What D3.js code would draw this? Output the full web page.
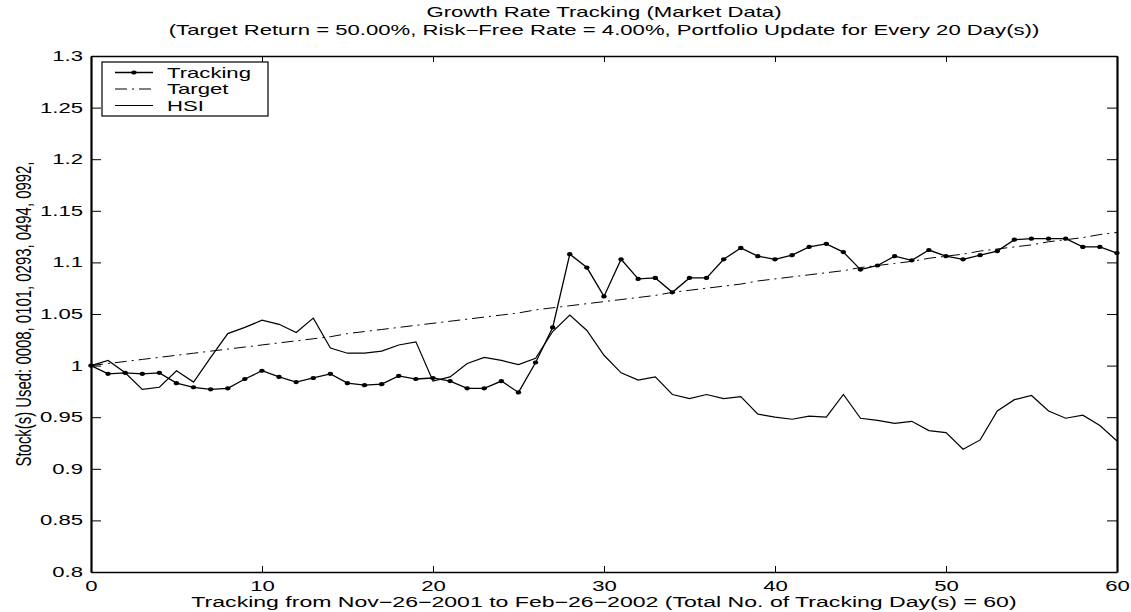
<!DOCTYPE html>
<html>
<head>
<meta charset="utf-8">
<script src="https://cdn.jsdelivr.net/npm/d3@7"></script>
<style>
  body { margin: 0; background: #fff; }
  text { font-family: "Liberation Sans", Arial, Helvetica, sans-serif; fill: #000; }
</style>
</head>
<body>
<script>
// Chart values
const days = d3.range(0, 61);

const tracking = [1.000, 0.992, 0.993, 0.992, 0.993, 0.983, 0.979, 0.977, 0.978, 0.987,
                  0.995, 0.989, 0.984, 0.988, 0.992, 0.983, 0.981, 0.982, 0.990, 0.987,
                  0.988, 0.985, 0.978, 0.978, 0.985, 0.974, 1.003, 1.037, 1.108, 1.095,
                  1.067, 1.103, 1.084, 1.085, 1.071, 1.085, 1.085, 1.103, 1.114, 1.106,
                  1.103, 1.107, 1.115, 1.118, 1.110, 1.093, 1.097, 1.106, 1.102, 1.112,
                  1.106, 1.103, 1.107, 1.111, 1.122, 1.123, 1.123, 1.123, 1.115, 1.115,
                  1.109];

const target = [1.000, 1.002, 1.004, 1.006, 1.008, 1.010, 1.012, 1.014, 1.016, 1.018,
                1.020, 1.022, 1.024, 1.026, 1.028, 1.031, 1.033, 1.035, 1.037, 1.039,
                1.041, 1.043, 1.045, 1.047, 1.049, 1.051, 1.054, 1.056, 1.058, 1.060,
                1.062, 1.064, 1.066, 1.068, 1.071, 1.073, 1.075, 1.077, 1.079, 1.082,
                1.084, 1.086, 1.088, 1.090, 1.092, 1.095, 1.097, 1.099, 1.101, 1.104,
                1.106, 1.108, 1.111, 1.113, 1.115, 1.117, 1.120, 1.122, 1.124, 1.127,
                1.129];

const hsi = [1.000, 1.005, 0.993, 0.977, 0.979, 0.995, 0.984, 1.008, 1.031, 1.037,
             1.044, 1.040, 1.032, 1.046, 1.017, 1.012, 1.012, 1.014, 1.020, 1.023,
             0.985, 0.989, 1.002, 1.008, 1.005, 1.001, 1.007, 1.033, 1.049, 1.034,
             1.010, 0.993, 0.986, 0.989, 0.972, 0.968, 0.972, 0.968, 0.970, 0.953,
             0.950, 0.948, 0.951, 0.950, 0.972, 0.949, 0.947, 0.944, 0.946, 0.937,
             0.935, 0.919, 0.928, 0.956, 0.967, 0.971, 0.956, 0.949, 0.952, 0.942,
             0.927];

const xTicks = [0, 10, 20, 30, 40, 50, 60];
const yTicks = [0.8, 0.85, 0.9, 0.95, 1, 1.05, 1.1, 1.15, 1.2, 1.25, 1.3];
const yTickLabels = ["0.8", "0.85", "0.9", "0.95", "1", "1.05", "1.1", "1.15", "1.2", "1.25", "1.3"];

const seriesNames = ["Tracking", "Target", "HSI"];

// Dimensions
const W = 1131, H = 612;
const margin = {top: 56, right: 14, bottom: 40, left: 91};
const width = W - margin.left - margin.right,
      height = H - margin.top - margin.bottom;

// the original figure was stretched sideways, so text is wide
const SX = 1.58;
const FS = "14px";

function stretch(sel) {
    sel.each(function() {
        const t = d3.select(this);
        const x0 = +t.attr("x") || 0;
        t.attr("x", x0 / SX).attr("transform", `scale(${SX},1)`);
    });
}

const root = d3.select("body").append("svg")
    .attr("width", W)
    .attr("height", H);

const svg = root.append("g")
    .attr("transform", `translate(${margin.left},${margin.top})`);

// scales
const x = d3.scaleLinear().domain([0, 60]).range([0, width]);
const y = d3.scaleLinear().domain([0.8, 1.3]).range([height, 0]);

// axes (ticks pointing inward, box all round)
function styleAxis(g, sw) {
    g.select(".domain").attr("stroke", "#000").attr("stroke-width", sw);
    g.selectAll(".tick line").attr("stroke", "#000").attr("stroke-width", 1);
    g.selectAll(".tick text").style("font-size", FS).attr("fill", "#000").call(stretch);
}

svg.append("g")
   .attr("transform", `translate(0,${height})`)
   .call(d3.axisBottom(x).tickValues(xTicks).tickSizeInner(-6).tickSizeOuter(0).tickPadding(9))
   .call(styleAxis, 1.6);

svg.append("g")
   .call(d3.axisTop(x).tickValues(xTicks).tickSizeInner(-6).tickSizeOuter(0).tickFormat(""))
   .call(styleAxis, 1.6);

svg.append("g")
   .call(d3.axisLeft(y).tickValues(yTicks).tickSizeInner(-10).tickSizeOuter(0).tickPadding(8)
         .tickFormat((d, i) => yTickLabels[i]))
   .call(styleAxis, 2.2);

svg.append("g")
   .attr("transform", `translate(${width},0)`)
   .call(d3.axisRight(y).tickValues(yTicks).tickSizeInner(-10).tickSizeOuter(0).tickFormat(""))
   .call(styleAxis, 2.2);

// lines
const line = d3.line()
    .x((d, i) => x(days[i]))
    .y(d => y(d));

svg.append("path")
   .datum(target)
   .attr("fill", "none")
   .attr("stroke", "#000")
   .attr("stroke-width", 1)
   .attr("stroke-dasharray", "12,5,2,5")
   .attr("d", line);

svg.append("path")
   .datum(hsi)
   .attr("fill", "none")
   .attr("stroke", "#000")
   .attr("stroke-width", 1.2)
   .attr("d", line);

svg.append("path")
   .datum(tracking)
   .attr("fill", "none")
   .attr("stroke", "#000")
   .attr("stroke-width", 1.3)
   .attr("d", line);

svg.selectAll(".dot")
   .data(tracking)
   .join("ellipse")
   .attr("class", "dot")
   .attr("cx", (d, i) => x(days[i]))
   .attr("cy", d => y(d))
   .attr("rx", 2.7)
   .attr("ry", 2.1)
   .attr("fill", "#000");

// legend
const legend = svg.append("g").attr("transform", "translate(11,6)");
legend.append("rect")
   .attr("width", 166)
   .attr("height", 54)
   .attr("fill", "#fff")
   .attr("stroke", "#000")
   .attr("stroke-width", 1.2);

const rows = legend.selectAll(".row")
   .data(seriesNames)
   .join("g")
   .attr("class", "row")
   .attr("transform", (d, i) => `translate(0,${10.5 + i * 16.5})`);

rows.append("line")
   .attr("x1", 13).attr("x2", 51)
   .attr("stroke", "#000")
   .attr("stroke-width", d => d === "Tracking" ? 1.3 : 1)
   .attr("stroke-dasharray", d => d === "Target" ? "12,5,2,5" : null);

rows.filter(d => d === "Tracking")
   .append("ellipse")
   .attr("cx", 32).attr("rx", 2.7).attr("ry", 2.1).attr("fill", "#000");

rows.append("text")
   .attr("x", 65)
   .attr("dy", "0.36em")
   .style("font-size", FS)
   .text(d => d)
   .call(stretch);

// titles
root.append("text")
   .attr("x", margin.left + width / 2)
   .attr("y", 17)
   .attr("text-anchor", "middle")
   .style("font-size", FS)
   .text("Growth Rate Tracking (Market Data)")
   .call(stretch);

root.append("text")
   .attr("x", margin.left + width / 2)
   .attr("y", 35)
   .attr("text-anchor", "middle")
   .style("font-size", FS)
   .text("(Target Return = 50.00%, Risk\u2212Free Rate = 4.00%, Portfolio Update for Every 20 Day(s))")
   .call(stretch);

root.append("text")
   .attr("x", margin.left + width / 2)
   .attr("y", 607)
   .attr("text-anchor", "middle")
   .style("font-size", "14.6px")
   .text("Tracking from Nov\u221226\u22122001 to Feb\u221226\u22122002 (Total No. of Tracking Day(s) = 60)")
   .call(stretch);

root.append("text")
   .attr("transform", `translate(31,${margin.top + height / 2}) scale(${SX},1) rotate(-90)`)
   .attr("text-anchor", "middle")
   .attr("textLength", 305)
   .attr("lengthAdjust", "spacingAndGlyphs")
   .style("font-size", FS)
   .text("Stock(s) Used: 0008, 0101, 0293, 0494, 0992,");
</script>
</body>
</html>
